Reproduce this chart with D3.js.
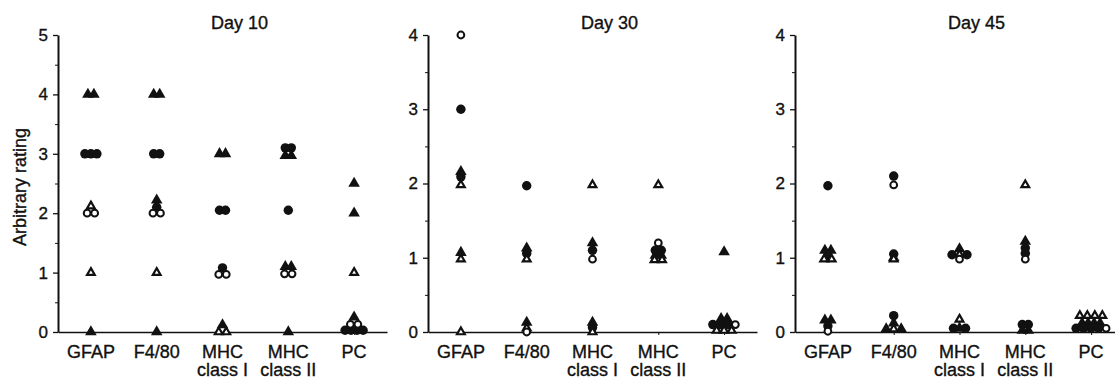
<!DOCTYPE html>
<html>
<head>
<meta charset="utf-8">
<script src="https://cdn.jsdelivr.net/npm/d3@7"></script>
<style>
  html, body { margin: 0; padding: 0; background: #ffffff; }
  svg { display: block; }
  text { font-family: "Liberation Sans", Arial, Helvetica, sans-serif; fill: #111; stroke: #111; stroke-width: 0.35px; }
</style>
</head>
<body>
<script>
// ---------- data ----------
const categories = ["GFAP", "F4/80", "MHC class I", "MHC class II", "PC"];
const panelTitles = ["Day 10", "Day 30", "Day 45"];
const panelMax = [5, 4, 4];
const yAxisTitle = "Arbitrary rating";
// marker codes: fc filled circle, oc open circle, ft filled triangle, ot open triangle
// each point: [category index, rating, marker]
const day10Points = [
  [0, 4, "ft"], [0, 4, "ft"],
  [0, 3, "fc"], [0, 3, "fc"], [0, 3, "fc"],
  [0, 2.12, "ot"],
  [0, 2, "oc"], [0, 2, "oc"],
  [0, 1, "ot"],
  [0, 0, "ft"],
  [1, 4, "ft"], [1, 4, "ft"],
  [1, 3, "fc"], [1, 3, "fc"],
  [1, 2.22, "ft"], [1, 2.1, "fc"],
  [1, 2, "oc"], [1, 2, "oc"],
  [1, 1, "ot"],
  [1, 0, "ft"],
  [2, 3, "ft"], [2, 3, "ft"],
  [2, 2.05, "fc"], [2, 2.05, "fc"],
  [2, 1.08, "fc"],
  [2, 0.97, "oc"], [2, 0.97, "oc"],
  [2, 0.12, "ft"],
  [2, 0, "ot"], [2, 0, "ot"],
  [3, 3.1, "fc"], [3, 3.1, "fc"],
  [3, 2.97, "ft"], [3, 2.97, "ft"],
  [3, 2.05, "fc"],
  [3, 1.1, "ft"], [3, 1.1, "ft"],
  [3, 0.98, "oc"], [3, 0.98, "oc"],
  [3, 0, "ft"],
  [4, 2.5, "ft"],
  [4, 2, "ft"],
  [4, 1, "ot"],
  [4, 0.25, "ft"],
  [4, 0.13, "oc"], [4, 0.13, "oc"],
  [4, 0.03, "fc"], [4, 0.03, "fc"], [4, 0.03, "fc"], [4, 0.03, "fc"]
];
const day30Points = [
  [0, 4, "oc"],
  [0, 3, "fc"],
  [0, 2.16, "ft"], [0, 2.09, "fc"], [0, 1.98, "ot"],
  [0, 1.07, "ft"], [0, 0.98, "ot"],
  [0, 0, "ot"],
  [1, 1.97, "fc"],
  [1, 1.13, "ft"], [1, 1.06, "fc"], [1, 0.98, "ot"],
  [1, 0.13, "ft"], [1, 0.05, "ot"], [1, 0, "oc"],
  [2, 1.98, "ot"],
  [2, 1.2, "ft"], [2, 1.1, "fc"], [2, 0.98, "oc"],
  [2, 0.13, "ft"], [2, 0.06, "fc"], [2, 0, "ot"],
  [3, 1.98, "ot"],
  [3, 1.2, "oc"],
  [3, 1.1, "fc"], [3, 1.1, "fc"],
  [3, 1.03, "ft"], [3, 1.03, "ft"],
  [3, 0.97, "ot"], [3, 0.97, "ot"],
  [4, 1.08, "ft"],
  [4, 0.18, "ft"], [4, 0.18, "ft"],
  [4, 0.1, "fc"], [4, 0.1, "fc"], [4, 0.1, "fc"], [4, 0.1, "oc"],
  [4, 0.02, "ot"], [4, 0.02, "ot"], [4, 0.02, "ot"]
];
const day45Points = [
  [0, 1.97, "fc"],
  [0, 1.1, "ft"], [0, 1.1, "ft"],
  [0, 1.02, "fc"],
  [0, 0.98, "ot"], [0, 0.98, "ot"],
  [0, 0.16, "ft"], [0, 0.16, "ft"],
  [0, 0.08, "fc"],
  [0, 0.01, "oc"],
  [1, 2.1, "fc"], [1, 1.98, "oc"],
  [1, 1.05, "fc"], [1, 1.0, "ft"], [1, 0.98, "ot"],
  [1, 0.22, "fc"],
  [1, 0.12, "ft"],
  [1, 0.04, "ft"], [1, 0.04, "ot"], [1, 0.04, "ft"],
  [2, 1.12, "ft"],
  [2, 1.04, "fc"], [2, 1.04, "ot"], [2, 1.04, "fc"],
  [2, 0.98, "oc"],
  [2, 0.17, "ot"],
  [2, 0.05, "fc"], [2, 0.05, "ft"], [2, 0.05, "fc"],
  [3, 1.98, "ot"],
  [3, 1.22, "ft"], [3, 1.13, "fc"], [3, 1.06, "fc"], [3, 0.98, "oc"],
  [3, 0.1, "fc"], [3, 0.1, "fc"],
  [3, 0.02, "ft"], [3, 0.02, "ft"],
  [4, 0.22, "ot"], [4, 0.22, "ot"], [4, 0.22, "ot"], [4, 0.22, "ot"],
  [4, 0.12, "ft"], [4, 0.12, "ft"], [4, 0.12, "ft"], [4, 0.12, "ft"],
  [4, 0.05, "fc"], [4, 0.05, "fc"], [4, 0.05, "fc"], [4, 0.05, "fc"], [4, 0.05, "oc"]
];
const panelPoints = [day10Points, day30Points, day45Points];

// ---------- layout ----------
const W = 1115, H = 379;
const panelLeft = [58, 428, 795];
const panelWidth = 329;
const yTop = 35, yBottom = 332;
const ink = "#111";

const svg = d3.select("body").append("svg").attr("width", W).attr("height", H);

const markerSpec = {
  fc: { type: d3.symbolCircle, size: 70, fill: ink, stroke: "none", sw: 0 },
  oc: { type: d3.symbolCircle, size: 36, fill: "#fff", stroke: ink, sw: 2 },
  ft: { type: d3.symbolTriangle, size: 58, fill: ink, stroke: "none", sw: 0 },
  ot: { type: d3.symbolTriangle, size: 26, fill: "#fff", stroke: ink, sw: 2.2 }
};

panelTitles.forEach((title, pi) => {
  const L = panelLeft[pi];
  const g = svg.append("g");
  const x = d3.scalePoint().domain(d3.range(categories.length)).range([L, L + panelWidth]).padding(0.5);
  const y = d3.scaleLinear().domain([0, panelMax[pi]]).range([yBottom, yTop]);

  // y axis major
  const ya = g.append("g").attr("transform", `translate(${L},0)`)
    .call(d3.axisLeft(y).tickValues(d3.range(0, panelMax[pi] + 1)).tickSize(5).tickSizeOuter(0).tickPadding(5).tickFormat(d3.format("d")));
  ya.select(".domain").attr("stroke", ink).attr("stroke-width", 2);
  ya.selectAll(".tick line").attr("stroke", ink).attr("stroke-width", 1.3);
  ya.selectAll(".tick text").attr("font-size", 17).attr("fill", ink)
    .style("font-family", "'Liberation Sans', Arial, sans-serif");
  // y axis minor
  const yb = g.append("g").attr("transform", `translate(${L},0)`)
    .call(d3.axisLeft(y).tickValues(d3.range(0.5, panelMax[pi], 1)).tickSize(3).tickFormat(""));
  yb.select(".domain").remove();
  yb.selectAll(".tick line").attr("stroke", ink).attr("stroke-width", 1);

  // x axis
  const xa = g.append("g").attr("transform", `translate(0,${yBottom})`)
    .call(d3.axisBottom(x).tickSize(3).tickSizeOuter(0).tickFormat(""));
  xa.select(".domain").attr("stroke", ink).attr("stroke-width", 1.6);
  xa.selectAll(".tick line").attr("stroke", ink).attr("stroke-width", 1);

  // category labels
  categories.forEach((c, ci) => {
    const m = c.match(/^(MHC) (.*)$/);
    const lines = m ? [m[1], m[2]] : [c];
    const t = g.append("text").attr("text-anchor", "middle").attr("font-size", 18)
      .attr("x", x(ci)).attr("y", 358);
    lines.forEach((ln, li) => {
      t.append("tspan").attr("x", x(ci)).attr("dy", li === 0 ? 0 : 18).text(ln);
    });
  });

  // title
  g.append("text").attr("text-anchor", "middle").attr("font-size", 18)
    .attr("x", (x(0) + x(categories.length - 1)) / 2 + 17).attr("y", 28.5).text(title);

  // points with dodge
  const pts = panelPoints[pi].map((d, i) => ({ c: d[0], v: d[1], m: d[2], i }));
  const groups = d3.group(pts, d => d.c + "|" + d.v);
  groups.forEach(arr => {
    const anyOpen = arr.some(d => d.m === "oc" || d.m === "ot");
    const sp = anyOpen ? 7.5 : 6;
    arr.forEach((d, k) => { d.dx = (k - (arr.length - 1) / 2) * sp; });
  });
  const order = { fc: 0, ft: 0, oc: 1, ot: 1 };
  pts.sort((a, b) => order[a.m] - order[b.m] || a.i - b.i);
  g.append("g").selectAll("path").data(pts).join("path")
    .attr("transform", d => `translate(${x(d.c) + d.dx},${y(d.v)})`)
    .attr("d", d => d3.symbol().type(markerSpec[d.m].type).size(markerSpec[d.m].size)())
    .attr("fill", d => markerSpec[d.m].fill)
    .attr("stroke", d => markerSpec[d.m].stroke)
    .attr("stroke-width", d => markerSpec[d.m].sw);
});

// y axis title
svg.append("text").attr("text-anchor", "middle").attr("font-size", 18)
  .attr("transform", "translate(26,187) rotate(-90)").text(yAxisTitle);
</script>
</body>
</html>
